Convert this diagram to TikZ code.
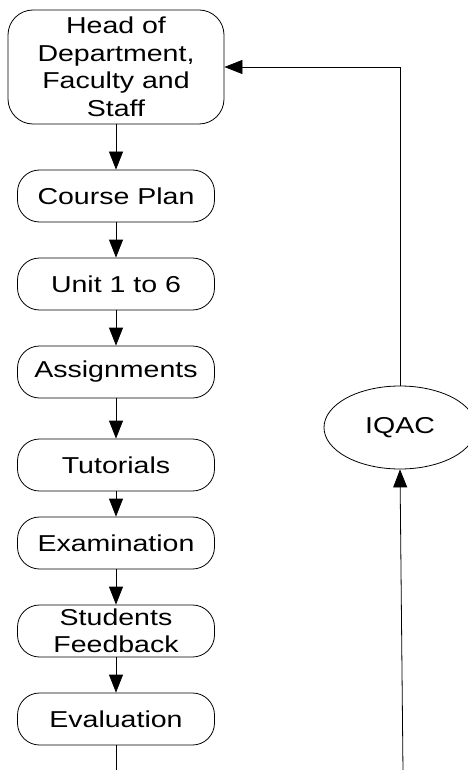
\documentclass[tikz,border=0pt]{standalone}
\usepackage{fontspec}
\setmainfont[FakeStretch=1.24]{Liberation Sans}
\usetikzlibrary{arrows.meta,shapes.geometric}
\begin{document}
\begin{tikzpicture}[x=1pt,y=-1pt,
  font=\fontsize{23}{27.5}\selectfont,
  line width=0.8pt,
  box/.style={draw, rounded corners=22pt, minimum width=197pt, minimum height=52pt, inner sep=0pt, align=center},
  oval/.style={draw, ellipse, minimum width=152pt, minimum height=83pt, inner sep=0pt},
  arr/.style={-{Triangle[length=18pt,width=14pt]}}]
\useasboundingbox (0,0) rectangle (467,770);
\node[box, rounded corners=25pt, minimum width=216pt, minimum height=114pt] (head) at (116,67) {Head of\\Department,\\Faculty and\\Staff};
\node[box] (plan) at (116,196) {Course Plan};
\node[box] (unit) at (116,284) {Unit 1 to 6};
\node[box] (assign) at (116,372) {Assignments};
\node[box] (tut) at (116,465) {Tutorials};
\node[box] (exam) at (116,543) {Examination};
\node[box] (feed) at (116,631) {Students\\Feedback};
\node[box] (eval) at (116,719) {Evaluation};
\node[oval] (iqac) at (400,427.5) {IQAC};
\coordinate (evb) at (116,772);
\coordinate (rb) at (403,772);
\coordinate (rt) at (400,67);
\draw[arr] (head) -- (plan);
\draw[arr] (plan) -- (unit);
\draw[arr] (unit) -- (assign);
\draw[arr] (assign) -- (tut);
\draw[arr] (tut) -- (exam);
\draw[arr] (exam) -- (feed);
\draw[arr] (feed) -- (eval);
\draw (eval) -- (evb);
\draw[arr] (rb) -- (iqac.south);
\draw[arr] (iqac.north) -- (rt) -- (head.east |- rt);
\end{tikzpicture}
\end{document}
